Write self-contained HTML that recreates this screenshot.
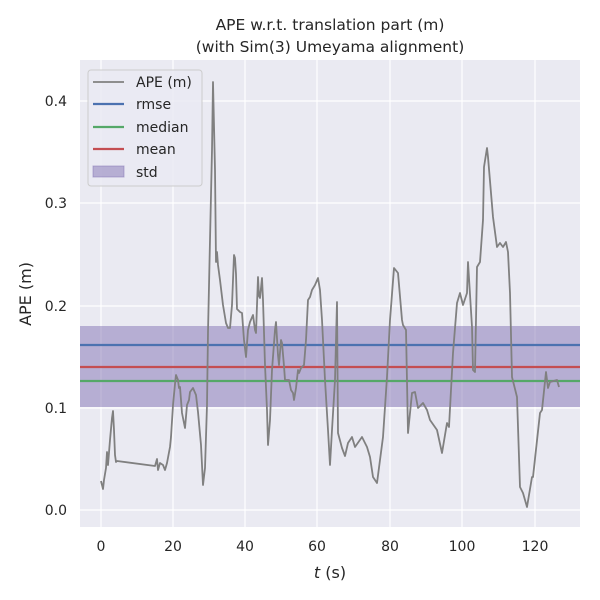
<!DOCTYPE html>
<html><head><meta charset="utf-8"><style>body{margin:0;background:#fff}svg{display:block}text{font-family:"DejaVu Sans","Liberation Sans",sans-serif;fill:#262626}</style></head><body>
<svg width="600" height="600" xmlns="http://www.w3.org/2000/svg">
<rect x="80" y="60" width="500" height="467" fill="#eaeaf2"/>
<g stroke="#fff" stroke-width="1.2">
<line x1="101" y1="60" x2="101" y2="527"/><line x1="173" y1="60" x2="173" y2="527"/><line x1="245" y1="60" x2="245" y2="527"/><line x1="317" y1="60" x2="317" y2="527"/><line x1="390" y1="60" x2="390" y2="527"/><line x1="462" y1="60" x2="462" y2="527"/><line x1="535" y1="60" x2="535" y2="527"/>
<line x1="80" y1="101" x2="580" y2="101"/><line x1="80" y1="203" x2="580" y2="203"/><line x1="80" y1="306" x2="580" y2="306"/><line x1="80" y1="408" x2="580" y2="408"/><line x1="80" y1="510" x2="580" y2="510"/>
</g>
<rect x="80" y="326" width="500" height="81" fill="#8172b3" fill-opacity="0.5"/>
<line x1="80" y1="345" x2="580" y2="345" stroke="#4c72b0" stroke-width="2.2"/>
<line x1="80" y1="381" x2="580" y2="381" stroke="#55a868" stroke-width="2.2"/>
<line x1="80" y1="367" x2="580" y2="367" stroke="#c44e52" stroke-width="2.2"/>
<polyline fill="none" stroke="#808080" stroke-width="1.8" stroke-linejoin="round" points="101,481 102,485 103,489 104,480 106,468 107,452 108,465 110,440 112,418 113,411 114,430 115,455 116,462 117,461 155,466 157,459 158,470 160,463 163,465 165,470 167,463 170,447 171,437 173,405 175,384 176,375 178,380 179,388 180,387 182,413 185,428 187,405 189,400 190,392 193,388 196,395 198,412 201,445 203,485 205,468 207,405 208,332 210,240 212,150 213,82 215,170 216,262 217,252 218,265 220,280 223,305 226,323 228,328 230,328 232,305 234,255 235,258 236,274 237,309 240,312 242,313 244,340 246,357 248,330 250,322 253,315 255,330 256,333 258,277 259,296 260,298 262,278 263,300 265,365 267,410 268,445 270,420 272,370 275,330 276,322 278,355 279,365 281,340 282,343 284,366 285,380 289,380 291,390 293,393 294,400 296,388 298,370 299,373 301,368 304,365 306,340 308,300 310,297 312,290 315,285 318,278 320,290 322,320 325,380 328,430 330,465 332,430 335,380 337,302 338,433 342,448 345,456 348,443 352,437 355,447 362,437 367,447 370,457 373,477 377,483 380,460 383,437 387,377 390,320 394,268 398,273 402,320 403,325 406,330 408,433 412,393 415,392 418,408 423,403 427,410 430,420 437,430 442,453 447,423 449,427 453,353 457,303 460,293 463,305 467,293 468,262 472,327 473,370 475,372 477,267 480,262 483,220 484,167 487,148 488,157 493,217 497,247 500,243 503,247 506,242 508,252 510,293 512,377 517,397 520,487 523,493 527,507 532,477 533,477 540,413 542,410 546,372 548,388 550,382 557,380 559,387"/>
<rect x="88" y="70" width="114" height="116" rx="3" fill="#eaeaf2" fill-opacity="0.8" stroke="#ccc"/>
<line x1="93" y1="82" x2="124" y2="82" stroke="#808080" stroke-width="1.8"/>
<line x1="93" y1="104" x2="124" y2="104" stroke="#4c72b0" stroke-width="2.2"/>
<line x1="93" y1="127" x2="124" y2="127" stroke="#55a868" stroke-width="2.2"/>
<line x1="93" y1="149" x2="124" y2="149" stroke="#c44e52" stroke-width="2.2"/>
<rect x="93" y="166" width="31" height="11" fill="#8172b3" fill-opacity="0.5" stroke="#8172b3" stroke-opacity="0.5"/>
<g font-size="14"><text x="136" y="87">APE (m)</text><text x="136" y="109">rmse</text><text x="136" y="132">median</text><text x="136" y="154">mean</text><text x="136" y="177">std</text></g>
<g font-size="14" text-anchor="middle"><text x="101" y="551">0</text><text x="173" y="551">20</text><text x="245" y="551">40</text><text x="317" y="551">60</text><text x="390" y="551">80</text><text x="462" y="551">100</text><text x="535" y="551">120</text></g>
<g font-size="14" text-anchor="end"><text x="67" y="106">0.4</text><text x="67" y="208">0.3</text><text x="67" y="311">0.2</text><text x="67" y="413">0.1</text><text x="67" y="515">0.0</text></g>
<text x="330" y="578" font-size="16" text-anchor="middle"><tspan font-style="italic">t</tspan> (s)</text>
<text transform="translate(31,294) rotate(-90)" font-size="16" text-anchor="middle">APE (m)</text>
<text x="330" y="30" font-size="15.5" text-anchor="middle">APE w.r.t. translation part (m)</text>
<text x="330" y="52" font-size="15.5" text-anchor="middle">(with Sim(3) Umeyama alignment)</text>
</svg>
</body></html>
